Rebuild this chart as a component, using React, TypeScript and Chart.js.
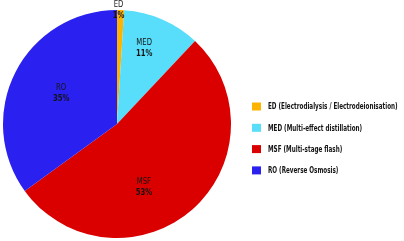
import React, { useEffect, useRef } from "react";
import { Chart, registerables } from "chart.js";

Chart.register(...registerables);

const codes = ["ED", "MED", "MSF", "RO"];
const legendLabels = [
  "ED (Electrodialysis / Electrodeionisation)",
  "MED (Multi-effect distillation)",
  "MSF (Multi-stage flash)",
  "RO (Reverse Osmosis)",
];
const shares = [1, 11, 53, 35];
const colors = ["#FDB300", "#58DDFA", "#DB0000", "#2A20F0"];

// label placement: fraction of radius and angular shift (degrees) from slice mid
const labelRadiusFrac = [1.0, 0.71, 0.6, 0.56];
const labelAngleShift = [-1.0, -3.8, 18.2, 2];

const FONT = "'DejaVu Sans Condensed', 'Liberation Sans Narrow', 'DejaVu Sans', sans-serif";

function drawScaledText(ctx: CanvasRenderingContext2D, text: string, x: number, y: number, sx: number, align: "left" | "center") {
  ctx.save();
  ctx.translate(x, y);
  ctx.scale(sx, 1);
  ctx.textAlign = align;
  ctx.fillText(text, 0, 0);
  ctx.restore();
}

const labelPlugin = {
  id: "sliceLabels",
  afterDraw(chart: any) {
    const ctx: CanvasRenderingContext2D = chart.ctx;
    const meta = chart.getDatasetMeta(0);
    ctx.save();
    ctx.fillStyle = "#141414";
    ctx.textBaseline = "middle";
    meta.data.forEach((el: any, i: number) => {
      const p = el.getProps(["x", "y", "startAngle", "endAngle", "outerRadius"], true);
      const mid = (p.startAngle + p.endAngle) / 2 + (labelAngleShift[i] * Math.PI) / 180;
      const r = p.outerRadius * labelRadiusFrac[i];
      const px = p.x + Math.cos(mid) * r;
      const py = p.y + Math.sin(mid) * r;
      ctx.font = `9px ${FONT}`;
      drawScaledText(ctx, codes[i], px, py - 5, 0.85, "center");
      ctx.font = `bold 9px ${FONT}`;
      drawScaledText(ctx, shares[i] + "%", px, py + 5.5, 0.85, "center");
    });
    // legend
    const area = chart.chartArea;
    const lx = area.right + 21;
    const ly0 = 106.5;
    const step = 21.3;
    legendLabels.forEach((t, i) => {
      const cy = ly0 + i * step;
      ctx.fillStyle = colors[i];
      ctx.fillRect(lx, cy - 4, 9, 8);
      ctx.fillStyle = "#141414";
      ctx.font = `bold 9.5px ${FONT}`;
      drawScaledText(ctx, t, lx + 16, cy + 0.5, 0.66, "left");
    });
    ctx.restore();
  },
};

export default function App() {
  const ref = useRef<HTMLCanvasElement>(null);
  useEffect(() => {
    document.body.style.margin = "0";
    const chart = new Chart(ref.current!, {
      type: "pie",
      data: {
        labels: codes,
        datasets: [
          {
            data: shares,
            backgroundColor: colors,
            borderWidth: 0,
          },
        ],
      },
      options: {
        responsive: false,
        animation: false,
        layout: { padding: { left: 3, right: 173, top: 10, bottom: 3 } },
        plugins: {
          legend: { display: false },
          tooltip: { enabled: false },
        },
      },
      plugins: [labelPlugin],
    });
    return () => chart.destroy();
  }, []);
  return <canvas ref={ref} width={404} height={241} style={{ display: "block" }} />;
}
